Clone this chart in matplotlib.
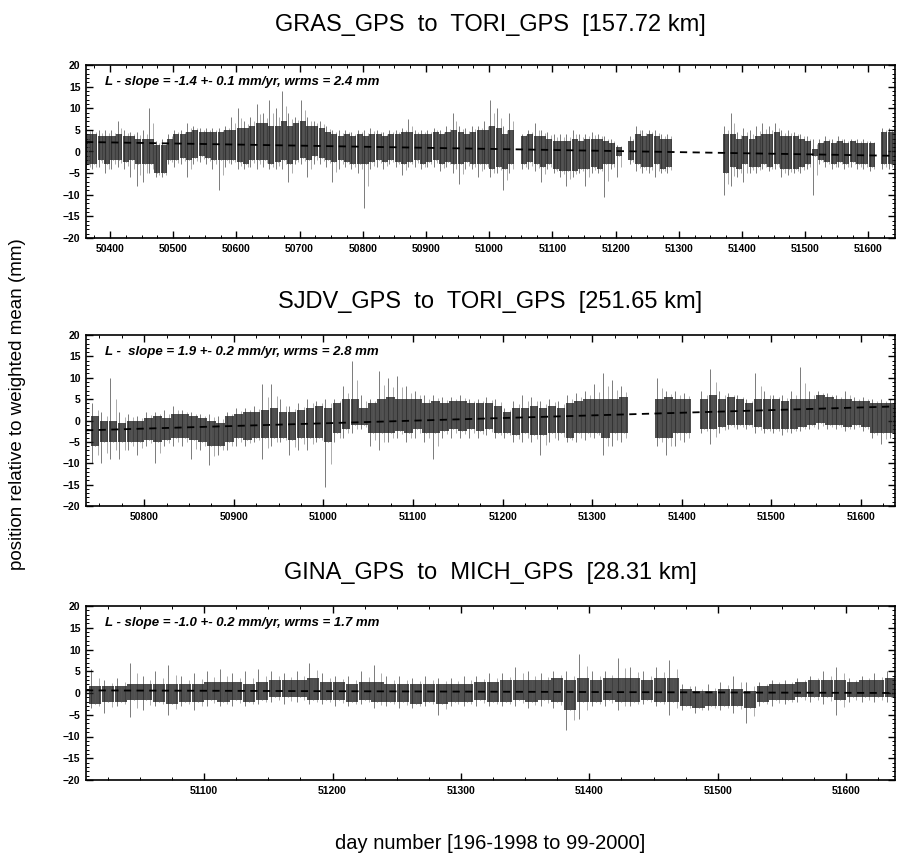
import numpy as np
import matplotlib
matplotlib.use("Agg")
import matplotlib.pyplot as plt
from matplotlib.ticker import MultipleLocator

plt.rcParams['font.family'] = ['Liberation Sans', 'DejaVu Sans']

nan = np.nan

# ---- panel 1: GRAS_GPS to TORI_GPS, 10-day bins starting 50365
p1_start = 50365
p1_core_lo = [-3, -3, -2, -3, -2, -2, -2.5, -2, -3, -3, -3, -5, -5, -2, -2, -1.5, -2, -1.5, -1, -1.5,
              -2, -2, -2, -2, -2.5, -3, -2, -2, -2, -3, -2.5, -2, -3, -2, -1.5, -2, -1, -1.5, -2, -2.5,
              -2, -2.5, -3, -3, -3, -2.5, -2, -2.5, -2, -2.5, -3, -2.5, -2, -3, -2.5, -2, -3, -2.5, -3, -3,
              -2.5, -3, -3, -3, -4, -3.5, -4, -3, nan, -3, -2.5, -3, -3.5, -3, -4, -4.5, -4.5, -4.5, -4, -4,
              -3.5, -4, -3, -3, -1, nan, -2, -3, -3.5, -3.5, -3, -4, -3.5, nan, nan, nan, nan, nan, nan, nan,
              nan, -5, -3.5, -4, -3, -3.5, -3.5, -3, -3.5, -3, -4, -4, -4, -3.5, -3, -1, -2, -2.5, -3, -2.5,
              -3, -2.5, -3, -3, -3.5, nan, -3, -3]
p1_core_hi = [4, 4, 3.5, 3.5, 3.5, 4, 3.5, 3.5, 3, 3, 3, 1.5, 1.5, 3, 4, 4, 4.5, 5, 4.5, 4.5,
              4.5, 4.5, 5, 5, 5.5, 5.5, 6, 6.5, 6.5, 6, 6, 7, 6, 6.5, 7, 6, 6, 5.5, 4.5, 4,
              3.5, 4, 3.5, 4, 3.5, 4, 4, 3.5, 4, 4, 4.5, 4.5, 4, 4, 4, 4.5, 4, 4.5, 5, 4.5,
              4, 4.5, 5, 5, 6, 5.5, 4, 5, nan, 3.5, 4, 3.5, 3.5, 3, 2.5, 2.5, 2.5, 3, 2.5, 3,
              3, 3, 2.5, 2, 1, nan, 2.5, 4, 3.5, 4, 3.5, 3, 3, nan, nan, nan, nan, nan, nan, nan,
              nan, 4, 4, 3, 3.5, 3, 3.5, 4, 4, 4.5, 3.5, 3.5, 3.5, 3, 2.5, 0.5, 2, 2.5, 2, 2.5,
              2, 2.5, 2, 2, 2, nan, 4.5, 4.5]
p1_out_lo = [-4, -4, -3.5, -5, -4, -3.5, -4, -6, -8, -7, -5, -6, -6, -3, -3.5, -3, -6, -3, -2.5, -3,
             -4, -9, -3.5, -3, -4, -4, -3.5, -4, -3.5, -4, -4, -4, -7, -3, -3, -6, -3, -3, -3.5, -7,
             -4, -3.5, -4, -5, -13, -4, -3.5, -4, -3, -3.5, -5.5, -3.5, -3.5, -4, -3.5, -3.5, -4.5, -3.5, -5, -7.5,
             -4, -4, -6, -4, -6, -5, -9, -5, nan, -4, -4, -4.5, -7, -4, -5, -6, -8, -6, -5, -8,
             -5, -5, -10.5, -4, -6, nan, -3, -4.5, -5, -5, -6, -5, -5, nan, nan, nan, nan, nan, nan, nan,
             nan, -10, -8, -6, -7, -5, -5, -4, -4.5, -4, -6, -5.5, -5, -5, -4, -10, -3, -3.5, -4, -3.5,
             -4, -3.5, -4, -4, -4.5, nan, -4, -4]
p1_out_hi = [5.5, 5, 5, 5, 5, 7, 5, 4.5, 4.5, 5, 10, 2.5, 3, 4, 5, 5, 6.5, 6, 5.5, 5.5,
             5.5, 5.5, 6, 8, 10, 7, 8, 11, 9, 12, 10, 14, 9, 8, 12, 8, 7, 7, 6, 5,
             5, 5, 4.5, 5, 5, 5.5, 5, 4.5, 5, 5, 5.5, 7.5, 5, 5, 5, 5.5, 5, 6, 9, 6,
             5.5, 6, 6, 7, 12, 10, 6, 9, nan, 4, 5, 6.5, 5, 4.5, 4, 4, 4, 5, 4, 4,
             4.5, 4, 3.5, 3, 1.5, nan, 3.5, 6, 5, 5, 5, 4, 4, nan, nan, nan, nan, nan, nan, nan,
             nan, 6, 9, 4.5, 5.5, 5, 6, 6.5, 6, 6.5, 5, 5, 4.5, 4, 3.5, 3, 3, 3.5, 3, 3.5,
             3, 3, 3, 3, 2.5, nan, 5.5, 5.5]

# ---- panel 2: SJDV_GPS to TORI_GPS, 10-day bins starting 50745
p2_start = 50745
p2_core_lo = [-6, -5, -5, -5, -5, -5, -4.5, -5, -4.5, -4, -4, -4.5, -5, -6, -6, -5, -4, -4.5, -4, -4,
              -4, -4, -4.5, -4, -4, -4, -5, -3, -2, -1, -1, -3, -3, -3, -2.5, -3, -2, -3, -3, -2.5,
              -2, -2.5, -2, -2.5, -2, -3, -3, -3.5, -3, -3.5, -3.5, -3, -3, -4, -3, -3, -3, -4, -3, -3,
              nan, nan, nan, -4, -4, -3, -3, nan, -2, -2, -1.5, -1, -1, -1, -1.5, -2, -2, -2, -2, -1.5,
              -1, -0.5, -1, -1, -1.5, -1, -1.5, -3, -3, -3]
p2_core_hi = [1, 0, 0, -0.5, 0, 0, 0.5, 1, 0.5, 1.5, 1.5, 1, 0.5, 0, -0.5, 1, 1.5, 2, 2, 2.5,
              3, 2, 2, 2.5, 3, 3.5, 3, 4, 5, 5, 3, 4, 5, 5.5, 5, 5, 5, 4, 4.5, 4,
              4.5, 4.5, 4, 4, 4, 3.5, 2, 3, 3, 3.5, 3, 3.5, 3, 4, 4.5, 5, 5, 5, 5, 5.5,
              nan, nan, nan, 5, 5.5, 5, 5, nan, 5, 6, 5, 5.5, 5, 4, 5, 5, 5, 4.5, 5, 5,
              5, 6, 5.5, 5, 5, 4.5, 4.5, 4, 4, 4]
p2_out_lo = [-10, -10, -9, -9, -7, -8, -6, -10, -6, -6, -6, -9, -7, -10.5, -8, -7, -6, -6, -5, -9,
             -6, -5, -8, -7, -7, -5, -15.5, -5, -4, -3, -2, -6, -7, -5, -4, -5, -4, -5, -9, -4,
             -4, -4, -4, -4, -3.5, -4, -4, -5, -5, -5, -8, -5, -4.5, -5, -5, -4.5, -4, -8, -6, -5,
             nan, nan, nan, -6, -8, -6, -5, nan, -3, -5.5, -3, -2, -2, -2, -3, -3, -3, -3.5, -3, -2.5,
             -2, -2, -2, -2, -2.5, -2, -2.5, -4, -5.5, -4]
p2_out_hi = [4, 2, 10, 2, 1.5, 1, 2, 2, 2.5, 3.5, 2.5, 2, 1.5, 1.5, 1, 2, 3, 3, 3.5, 8.5,
             8.5, 5, 3.5, 4, 5, 4.5, 5, 5, 8, 14, 6, 5, 11.5, 10, 10.5, 8, 7, 6, 6, 5.5,
             5.5, 6, 5, 5, 5.5, 5, 3, 4.5, 6, 5.5, 4.5, 5, 4.5, 6, 6.5, 7, 8.5, 11, 9.5, 8,
             nan, nan, nan, 10, 7, 7, 6.5, nan, 7, 12, 7, 6.5, 6, 5, 11, 7, 6, 6, 7, 12.5,
             7, 7, 6.5, 6, 7, 5.5, 5.5, 5, 5, 5]

# ---- panel 3: GINA_GPS to MICH_GPS, 10-day bins starting 51015
p3_start = 51015
p3_core_lo = [-2.5, -2, -2, -1.5, -1.5, -2, -2.5, -2, -2, -1.5, -2, -1.5, -2, -1.5, -1, -1, -1, -1.5, -1.5, -1.5,
              -2, -1.5, -2, -2, -2, -2.5, -2, -2.5, -2, -2, -1.5, -2, -2, -1.5, -2, -1.5, -2, -4, -2, -2,
              -1.5, -2, -2, -1.5, -2, -2, -3, -3.5, -3, -3, -3, -3.5, -2, -1.5, -1.5, -1, -1, -1, -1.5, -1,
              -1, -1, -1]
p3_core_hi = [1.5, 1.5, 1.5, 2, 2, 2, 2, 2, 2, 2.5, 2.5, 2.5, 2, 2.5, 3, 3, 3, 3.5, 2.5, 2.5,
              2, 2.5, 2.5, 2, 2, 2, 2, 2, 2, 2, 2.5, 2.5, 3, 3, 3, 3, 3.5, 3, 3.5, 3,
              3.5, 3.5, 3.5, 3, 3.5, 3.5, 1, 0.5, 0.5, 1, 1, 0.5, 1.5, 2, 2, 2.5, 3, 3, 3, 2.5,
              3, 3, 3.5]
p3_out_lo = [-3.5, -4.5, -3, -5.5, -4, -3, -5, -3, -4, -3, -3, -3, -3, -2.5, -2, -2.5, -2, -2.5, -2.5, -3,
             -3, -2.5, -3.5, -3, -3.5, -3.5, -3, -5, -3, -3, -3, -3, -3, -3, -3.5, -3, -3.5, -8.5, -6, -3,
             -3, -4, -3, -2.5, -3, -5, -4, -4.5, -4, -4, -4.5, -7, -3, -3, -2.5, -2, -2, -2.5, -5, -2,
             -2, -2, -2]
p3_out_hi = [5.5, 3, 3.5, 7, 4, 5, 6.5, 4, 4.5, 5, 5.5, 4.5, 5, 5.5, 5, 4.5, 5, 7, 4.5, 4,
             4, 5, 6.5, 4, 4, 3.5, 4, 3.5, 3.5, 4, 4, 4.5, 4.5, 6, 5, 4.5, 5, 5, 9, 5,
             5, 8, 6, 5, 6, 7.5, 2, 1.5, 2, 2.5, 4, 2.5, 2.5, 3, 3, 3.5, 4, 5, 6, 3.5,
             4, 4.5, 5]

# trend line end points (day, mm)
p1_trend = ([50362, 51642], [2.2, -1.0])
p2_trend = ([50735, 51640], [-2.3, 3.3])
p3_trend = ([51008, 51638], [0.6, 0.0])

titles = ["GRAS_GPS  to  TORI_GPS  [157.72 km]",
          "SJDV_GPS  to  TORI_GPS  [251.65 km]",
          "GINA_GPS  to  MICH_GPS  [28.31 km]"]
notes = ["L - slope = -1.4 +- 0.1 mm/yr, wrms = 2.4 mm",
         "L -  slope = 1.9 +- 0.2 mm/yr, wrms = 2.8 mm",
         "L - slope = -1.0 +- 0.2 mm/yr, wrms = 1.7 mm"]
xlims = [(50362, 51642), (50735, 51638), (51008, 51638)]

panels = [(p1_start, p1_core_lo, p1_core_hi, p1_out_lo, p1_out_hi, p1_trend),
          (p2_start, p2_core_lo, p2_core_hi, p2_out_lo, p2_out_hi, p2_trend),
          (p3_start, p3_core_lo, p3_core_hi, p3_out_lo, p3_out_hi, p3_trend)]

fig = plt.figure(figsize=(8.98, 8.63), dpi=100)
W, H = 898., 863.
boxes = [(86, 65, 238), (86, 335, 506), (86, 606, 780)]
title_y = [25, 302, 573]

for k, (start, clo, chi, olo, ohi, trend) in enumerate(panels):
    l, t, b = boxes[k]
    ax = fig.add_axes([l / W, 1 - b / H, (895 - l) / W, (b - t) / H])
    days = start + 10 * np.arange(len(clo))
    clo, chi = np.array(clo, float), np.array(chi, float)
    olo, ohi = np.array(olo, float), np.array(ohi, float)
    ok = ~np.isnan(clo)
    # faint error-bar whiskers
    ax.vlines(days[ok] - 3, olo[ok], ohi[ok], color='#7a7a7a', lw=0.7, zorder=1)
    ax.vlines(days[ok] + 3, (olo[ok] + clo[ok]) / 2, (ohi[ok] + chi[ok]) / 2,
              color='#a0a0a0', lw=0.6, zorder=1)
    # dark cloud of daily estimates
    ax.bar(days[ok], chi[ok] - clo[ok], bottom=clo[ok], width=9.5,
           color='#1e1e1e', alpha=0.78, lw=0, zorder=2)
    # streaks inside the cloud
    ax.vlines(days[ok], clo[ok], chi[ok], color='#555555', lw=0.5, zorder=2)
    ax.plot(trend[0], trend[1], color='black', lw=1.3, dashes=(4, 3), zorder=3)

    ax.set_xlim(*xlims[k])
    ax.set_ylim(-20, 20)
    ax.xaxis.set_major_locator(MultipleLocator(100))
    ax.xaxis.set_minor_locator(MultipleLocator(25))
    ax.yaxis.set_major_locator(MultipleLocator(5))
    ax.yaxis.set_minor_locator(MultipleLocator(1))
    ax.tick_params(which='both', direction='in', top=True, right=True,
                   labelsize=7.5, pad=4)
    ax.tick_params(which='major', length=5, width=1)
    ax.tick_params(which='minor', length=2.5, width=0.7)
    for lab in ax.get_xticklabels() + ax.get_yticklabels():
        lab.set_fontweight('bold')
    for sp in ax.spines.values():
        sp.set_linewidth(1.2)
    ax.text(0.024, 0.9, notes[k], transform=ax.transAxes, fontsize=9.5,
            style='italic', fontweight='bold', va='center', ha='left')
    fig.text(490 / W, 1 - title_y[k] / H, titles[k], fontsize=17,
             ha='center', va='center')

fig.text(18 / W, 1 - 404 / H, "position relative to weighted mean (mm)",
         rotation=90, fontsize=13.5, ha='center', va='center')
fig.text(490 / W, 1 - 843 / H, "day number [196-1998 to 99-2000]",
         fontsize=14.5, ha='center', va='center')

fig.savefig("out.png", dpi=100, facecolor='white')
